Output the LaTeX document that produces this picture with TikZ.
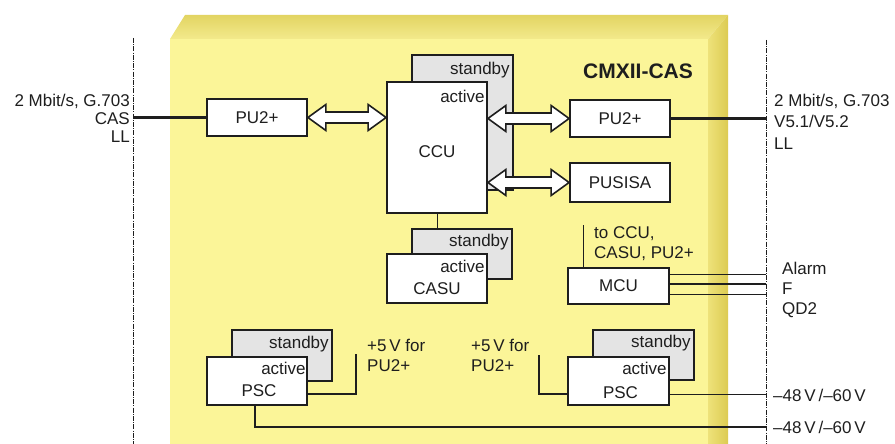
\documentclass[tikz,border=0pt]{standalone}
\usepackage{fontspec}
\setmainfont{Liberation Sans}
\usetikzlibrary{calc}
\definecolor{frontY}{HTML}{FBF598}
\definecolor{topY1}{HTML}{E2D462}
\definecolor{topY2}{HTML}{F3EA8C}
\definecolor{sideY1}{HTML}{EEE27A}
\definecolor{sideY2}{HTML}{DCCB52}
\definecolor{sbgray}{HTML}{E4E4E4}
\definecolor{ink}{HTML}{1E1E1E}
\newcommand{\dblarr}[2]{%
  \draw[dblarrow] let \p1=(#1), \p2=(#2) in
    (\x1,\y1) -- ({\x1+18pt},{\y1+13pt}) -- ({\x1+18pt},{\y1+5.5pt}) --
    ({\x2-18pt},{\y1+5.5pt}) -- ({\x2-18pt},{\y1+13pt}) -- (\x2,\y1) --
    ({\x2-18pt},{\y1-13pt}) -- ({\x2-18pt},{\y1-5.5pt}) --
    ({\x1+18pt},{\y1-5.5pt}) -- ({\x1+18pt},{\y1-13pt}) -- cycle;}
\tikzset{
  txt/.style={font=\fontsize{17}{20}\selectfont, inner sep=0pt, text=ink},
  unit/.style={draw=ink, line width=1.8pt, fill=white, inner sep=0pt, txt},
  sbox/.style={draw=ink, line width=1.8pt, fill=sbgray, inner sep=0pt},
  thinw/.style={draw=ink, line width=0.9pt},
  thickw/.style={draw=ink, line width=2.4pt},
  dashv/.style={draw=ink, line width=0.6pt, dash pattern=on 5pt off 1.2pt on 1pt off 1.2pt},
  dblarrow/.style={draw=ink, line width=1.6pt, fill=white, line join=miter},
}
\begin{document}
\begin{tikzpicture}[x=1pt,y=-1pt]
\useasboundingbox (0,0) rectangle (895,444);
% housing
\shade[top color=topY1, bottom color=topY2] (170,39) -- (185,15) -- (728,15) -- (708,39) -- cycle;
\shade[left color=sideY1, right color=sideY2] (708,39) -- (728,15) -- (728,444) -- (708,444) -- cycle;
\fill[frontY] (170,39) rectangle (708,444);
\node[font=\fontsize{21}{24}\selectfont\bfseries, text=ink, inner sep=0pt] (title) at (638,71) {CMXII-CAS};
% interface lines
\coordinate (ldt) at (133,38);
\coordinate (ldb) at (133,444);
\coordinate (rdt) at (766,40);
\coordinate (rdb) at (766,444);
\draw[dashv] (ldt) -- (ldb);
\draw[dashv] (rdt) -- (rdb);
% standby boxes
\node[sbox, minimum width=101pt, minimum height=135pt] (ccusb) at (462.5,122.5) {};
\node[sbox, minimum width=100pt, minimum height=50pt] (casusb) at (462,254) {};
\node[sbox, minimum width=100pt, minimum height=51pt] (pscLsb) at (282,355.5) {};
\node[sbox, minimum width=101pt, minimum height=50pt] (pscRsb) at (643.5,355) {};
% units
\node[unit, minimum width=100pt, minimum height=37pt] (pul) at (257,117.5) {PU2+};
\node[unit, minimum width=100pt, minimum height=37pt] (pur) at (620,118.5) {PU2+};
\node[unit, minimum width=100pt, minimum height=39pt] (pusisa) at (620,182.5) {PUSISA};
\node[unit, minimum width=100pt, minimum height=131pt] (ccua) at (437,147.5) {};
\node[unit, minimum width=100pt, minimum height=49pt] (casua) at (437,278.5) {};
\node[unit, minimum width=101pt, minimum height=36pt] (mcu) at (618.5,286) {MCU};
\node[unit, minimum width=100pt, minimum height=48pt] (pscLa) at (257,381) {};
\node[unit, minimum width=101pt, minimum height=48pt] (pscRa) at (618.5,381) {};
% texts inside redundant units
\node[txt, anchor=east] (t1) at ($(ccusb.north east)+(-4,16)$) {standby};
\node[txt, anchor=east] (t2) at ($(ccua.north east)+(-3,15)$) {active};
\node[txt] (t3) at ($(ccua.center)+(0,4)$) {CCU};
\node[txt, anchor=east] (t4) at ($(casusb.north east)+(-4,14)$) {standby};
\node[txt, anchor=east] (t5) at ($(casua.north east)+(-3,13)$) {active};
\node[txt] (t6) at ($(casua.center)+(0,10)$) {CASU};
\node[txt, anchor=east] (t7) at ($(pscLsb.north east)+(-4,15)$) {standby};
\node[txt, anchor=east] (t8) at ($(pscLa.north east)+(-2,12)$) {active};
\node[txt] (t9) at ($(pscLa.center)+(2,10)$) {PSC};
\node[txt, anchor=east] (t10) at ($(pscRsb.north east)+(-4,14)$) {standby};
\node[txt, anchor=east] (t11) at ($(pscRa.north east)+(-3,12)$) {active};
\node[txt] (t12) at ($(pscRa.center)+(2,12)$) {PSC};
% wires
\draw[thickw] (pul.west -| ldt) -- (pul.west);
\draw[thickw] (pur.east) -- (pur.east -| rdt);
\draw[thinw] (ccua.south) -- (ccua.south |- casusb.north);
\coordinate (mcutop) at (583,225);
\draw[thinw] (mcu.north -| mcutop) -- (mcutop);
\draw[thinw] ($(mcu.east)+(0,-12)$) -- ($(mcu.east -| rdt)+(0,-12)$);
\draw[thickw] ($(mcu.east)+(0,-2)$) -- ($(mcu.east -| rdt)+(0,-2)$);
\draw[thinw] ($(mcu.east)+(0,8)$) -- ($(mcu.east -| rdt)+(0,8)$);
\coordinate (p5L) at (356,354);
\coordinate (p5R) at (539,355);
\draw[thickw] ($(pscLa.east)+(0,13)$) -| (p5L);
\draw[thickw] ($(pscRa.west)+(0,13)$) -| (p5R);
\draw[thinw] ($(pscRa.east)+(0,13)$) -- ($(pscRa.east -| rdt)+(0,13)$);
\coordinate (rbot) at (766,427);
\draw[thickw] ($(pscLa.south)+(-2,0)$) |- (rbot);
% double arrows
\dblarr{pul.east}{ccua.west |- pul.east}
\dblarr{ccua.east |- pur.west}{pur.west}
\dblarr{ccua.east |- pusisa.west}{pusisa.west}
% labels
\node[txt, anchor=east, align=right, font=\fontsize{17}{18}\selectfont] (lin) at (130,118) {2 Mbit/s, G.703\\CAS\\LL};
\node[txt, anchor=west, align=left, font=\fontsize{17}{21.5}\selectfont] (rin) at (774,121.5) {2 Mbit/s, G.703\\V5.1/V5.2\\LL};
\node[txt, anchor=west, align=left] (tocc) at (594,244) {to CCU,\\CASU, PU2+};
\node[txt, anchor=west, align=left] (alm) at (782,290) {Alarm\\F\\QD2};
\node[txt, anchor=west, align=left] (p5Lt) at (367,355) {+5\,V for\\PU2+};
\node[txt, anchor=west, align=left] (p5Rt) at (471,355) {+5\,V for\\PU2+};
\node[txt, anchor=west] (v1) at (773,395) {–48\,V\,/–60\,V};
\node[txt, anchor=west] (v2) at (773,427) {–48\,V\,/–60\,V};
\end{tikzpicture}
\end{document}
